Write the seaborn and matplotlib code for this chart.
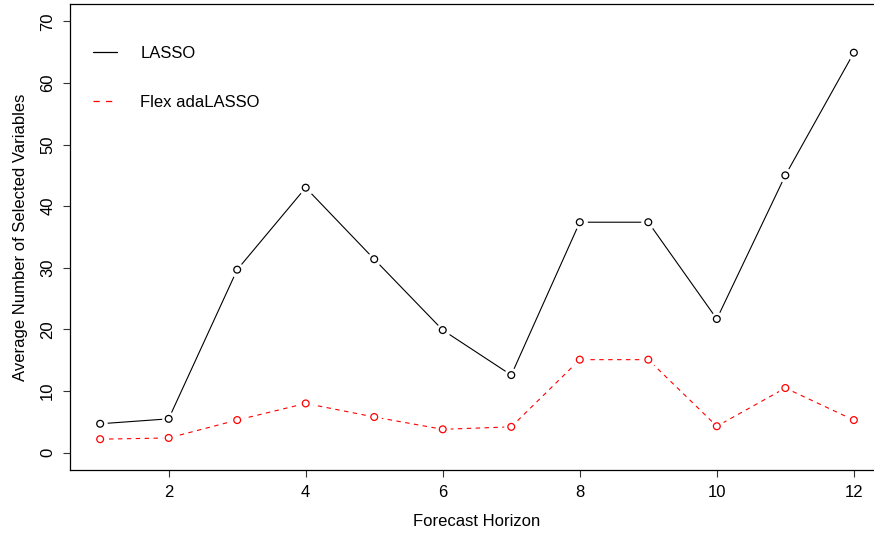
import matplotlib
matplotlib.use("Agg")
import matplotlib.pyplot as plt
from matplotlib.lines import Line2D
import numpy as np
import pandas as pd
import seaborn as sns

# Average number of selected variables per forecast horizon
horizons = [1, 2, 3, 4, 5, 6, 7, 8, 9, 10, 11, 12]
lasso = [4.7, 5.5, 29.7, 43.0, 31.4, 19.9, 12.6, 37.4, 37.4, 21.7, 45.0, 64.9]
flex_adalasso = [2.2, 2.4, 5.3, 8.0, 5.8, 3.8, 4.2, 15.1, 15.1, 4.3, 10.5, 5.3]
methods = ["LASSO", "Flex adaLASSO"]
y_ticks = [0, 10, 20, 30, 40, 50, 60, 70]
x_ticks = [2, 4, 6, 8, 10, 12]

df = pd.DataFrame({
    "Forecast Horizon": horizons * 2,
    "value": lasso + flex_adalasso,
    "method": [methods[0]] * len(horizons) + [methods[1]] * len(horizons),
})

sns.set_theme(style="white")
plt.rcParams["font.family"] = ["Liberation Sans", "DejaVu Sans"]
plt.rcParams["text.color"] = "black"
plt.rcParams["axes.labelcolor"] = "black"
FS = 12

palette = {"LASSO": "black", "Flex adaLASSO": "#ff0000"}
dashes = {"LASSO": "", "Flex adaLASSO": (4, 4)}

W, H = 874, 536
fig = plt.figure(figsize=(W / 100, H / 100), dpi=100, facecolor="white")
ax = fig.add_axes([70 / W, 66 / H, 814 / W, 466 / H])

# connecting lines
sns.lineplot(data=df, x="Forecast Horizon", y="value", hue="method",
             style="method", palette=palette, dashes=dashes, linewidth=0.8,
             legend=False, ax=ax, zorder=2)

# white halos leave a gap between the lines and the points
sns.scatterplot(data=df, x="Forecast Horizon", y="value", color="white",
                s=110, linewidth=0, legend=False, ax=ax, zorder=3)

# open circle points
for m in methods:
    sub = df[df["method"] == m]
    sns.scatterplot(data=sub, x="Forecast Horizon", y="value", marker="o",
                    s=24, facecolor="none", edgecolor=palette[m],
                    linewidth=0.9, legend=False, ax=ax, zorder=4)

ax.set_xlim(0.56, 12.44)
ax.set_ylim(-2.8, 72.8)
ax.set_xticks(x_ticks)
ax.set_yticks(y_ticks)
ax.set_xticklabels([str(t) for t in x_ticks], fontsize=FS)
ax.set_yticklabels([str(t) for t in y_ticks], fontsize=FS, rotation=90,
                   va="center")
ax.tick_params(axis="both", direction="out", length=5.2, width=0.8,
               color="#333333", labelcolor="black", pad=5.5,
               bottom=True, left=True)
ax.set_xlabel("Forecast Horizon", fontsize=FS, labelpad=10, color="black")
ax.set_ylabel("Average Number of Selected Variables", fontsize=FS,
              labelpad=9, color="black")

for side in ["left", "bottom", "top"]:
    ax.spines[side].set_visible(True)
    ax.spines[side].set_color("black")
    ax.spines[side].set_linewidth(0.9)
ax.spines["right"].set_visible(False)

handles = [
    Line2D([], [], color="black", linewidth=0.9),
    Line2D([], [], color="#ff0000", linewidth=0.9, dashes=(5, 5)),
]
ax.legend(handles, methods, loc="upper left", frameon=False, fontsize=FS,
          handlelength=1.45, handletextpad=1.4, labelspacing=2.05,
          borderaxespad=0, borderpad=0)
leg = ax.get_legend()
leg.set_bbox_to_anchor((23 / 814, 1 - 42 / 466), transform=ax.transAxes)

fig.savefig("out.png", dpi=100, facecolor="white")
